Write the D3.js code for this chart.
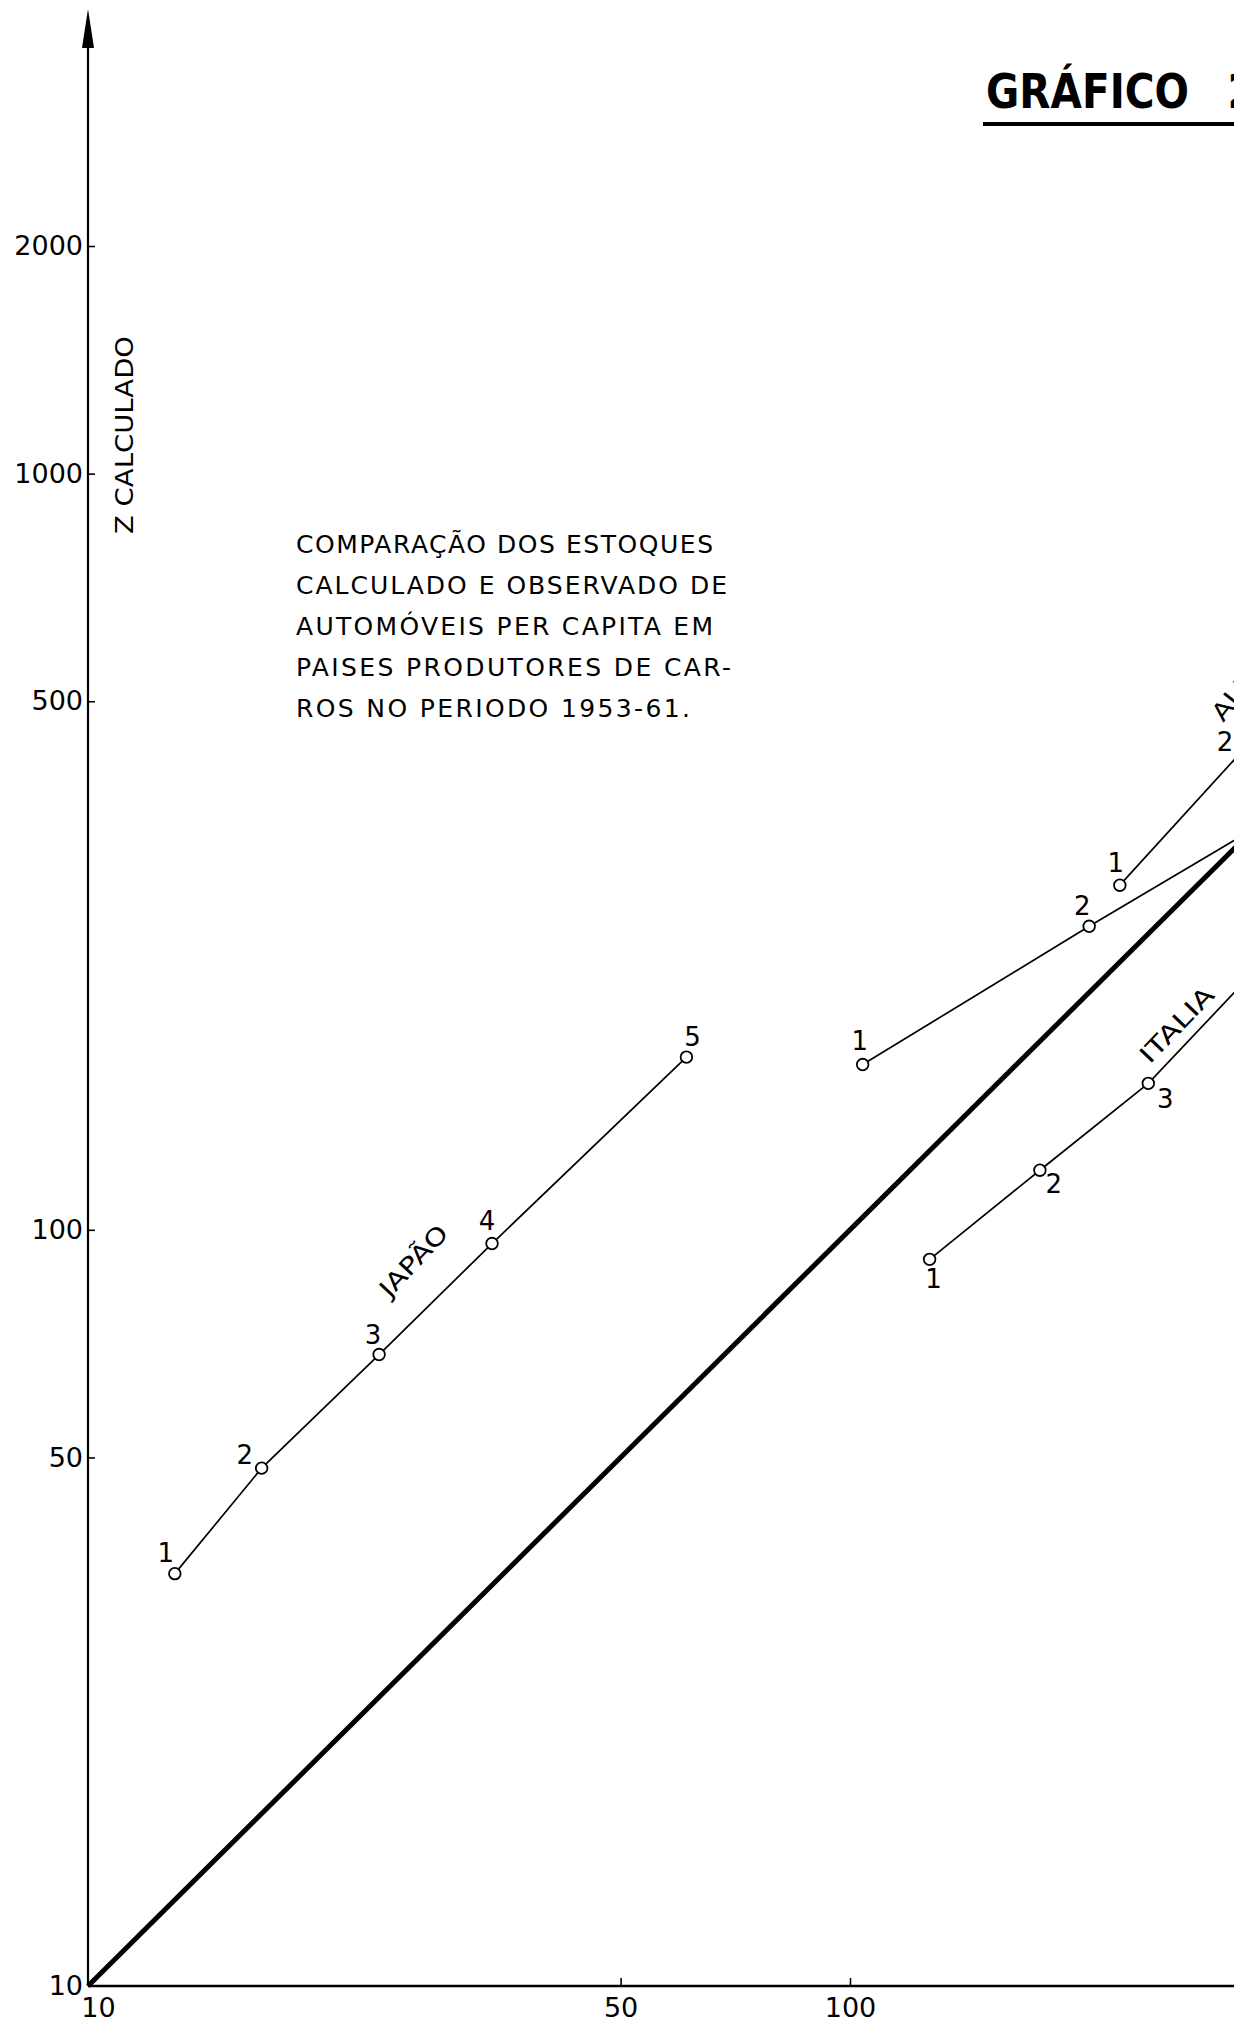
<!DOCTYPE html>
<html>
<head>
<meta charset="utf-8">
<script src="https://cdn.jsdelivr.net/npm/d3@7"></script>
<style>
  html, body { margin: 0; padding: 0; background: #fff; }
  svg { display: block; overflow: hidden; }
  text { font-family: "DejaVu Sans", sans-serif; fill: #000; }
</style>
</head>
<body>
<div id="g"></div>
<script>
// log-log chart: Z observado (x) vs Z calculado (y)
const yTicks = [10, 50, 100, 500, 1000, 2000];
const xTicks = [10, 50, 100];

const japaoX = [13.0, 16.9, 24.1, 33.9, 61.0];
const japaoY = [35.1, 48.4, 68.4, 95.9, 169.2];

const italiaX = [127.2, 177.5, 246.3, 347];
const italiaY = [91.4, 119.9, 156.2, 225];

const serieBX = [103.9, 206, 342];
const serieBY = [165.4, 252, 341];

const alemanhaX = [226, 330];
const alemanhaY = [285.6, 434];

const diagonal = [10, 400];

const textLines = [
  "COMPARAÇÃO DOS ESTOQUES",
  "CALCULADO E OBSERVADO DE",
  "AUTOMÓVEIS PER CAPITA EM",
  "PAISES PRODUTORES DE CAR-",
  "ROS NO PERIODO 1953-61."
];

// label offsets (px) for the point numbers
const japaoOff = [[-9, -21], [-17, -13], [-6, -20], [-5, -23], [6, -20]];
const italiaOff = [[4, 20], [14, 14], [17, 16], [14, 14]];
const serieBOff = [[-3, -24], [-7, -20], [-7, -20]];
const alemanhaOff = [[-4, -22], [-20, -6]];

const width = 1234, height = 2028;

const x = d3.scaleLog().domain([10, 100]).range([88, 850]);
const y = d3.scaleLog().domain([10, 2000]).range([1986, 246]);

const svg = d3.select('#g').append('svg')
  .attr('width', width)
  .attr('height', height);

svg.append('rect').attr('width', width).attr('height', height).attr('fill', '#fff');

// axes lines
svg.append('line')
  .attr('x1', x(10)).attr('x2', x(10))
  .attr('y1', y(10)).attr('y2', 30)
  .attr('stroke', '#000').attr('stroke-width', 2.2);
svg.append('path')
  .attr('d', `M${x(10)},9 L${x(10) - 6},48 L${x(10) + 6},48 Z`)
  .attr('fill', '#000');
svg.append('line')
  .attr('x1', x(10)).attr('x2', width)
  .attr('y1', y(10)).attr('y2', y(10))
  .attr('stroke', '#000').attr('stroke-width', 2.6);

const yAxis = d3.axisLeft(y)
  .tickValues(yTicks)
  .tickFormat(d3.format('d'))
  .tickSizeInner(-7)
  .tickSizeOuter(0)
  .tickPadding(5);

const gy = svg.append('g')
  .attr('transform', `translate(${x(10)},0)`)
  .call(yAxis);
gy.select('.domain').remove();
gy.selectAll('line').attr('stroke', '#000').attr('stroke-width', 1.6);
gy.selectAll('text')
  .style('font-family', '"DejaVu Sans", sans-serif')
  .style('font-size', '27px')
  .attr('fill', '#000');
gy.selectAll('.tick').filter(d => d == 10).select('line').remove();

const xAxis = d3.axisBottom(x)
  .tickValues(xTicks)
  .tickFormat(d3.format('d'))
  .tickSizeInner(-8)
  .tickSizeOuter(0)
  .tickPadding(12);

const gx = svg.append('g')
  .attr('transform', `translate(0,${y(10)})`)
  .call(xAxis);
gx.select('.domain').remove();
gx.selectAll('line').attr('stroke', '#000').attr('stroke-width', 1.6);
gx.selectAll('text')
  .style('font-family', '"DejaVu Sans", sans-serif')
  .style('font-size', '27px')
  .attr('fill', '#000');
gx.selectAll('.tick').filter(d => d == 10).select('line').remove();
gx.selectAll('.tick').filter(d => d == 10).select('text').attr('dx', 10);

// y = x reference line
svg.append('line')
  .attr('x1', x(diagonal[0])).attr('y1', y(diagonal[0]))
  .attr('x2', x(diagonal[1])).attr('y2', y(diagonal[1]))
  .attr('stroke', '#000').attr('stroke-width', 5);

// series
const series = [
  { xs: japaoX, ys: japaoY, off: japaoOff },
  { xs: italiaX, ys: italiaY, off: italiaOff },
  { xs: serieBX, ys: serieBY, off: serieBOff },
  { xs: alemanhaX, ys: alemanhaY, off: alemanhaOff }
];

const line = d3.line().x(d => x(d[0])).y(d => y(d[1]));

series.forEach(s => {
  const pts = s.xs.map((v, i) => [v, s.ys[i]]);
  svg.append('path')
    .datum(pts)
    .attr('d', line)
    .attr('fill', 'none')
    .attr('stroke', '#000')
    .attr('stroke-width', 1.7);
  svg.selectAll(null).data(pts).enter()
    .append('circle')
    .attr('cx', d => x(d[0]))
    .attr('cy', d => y(d[1]))
    .attr('r', 5.8)
    .attr('fill', '#fff')
    .attr('stroke', '#000')
    .attr('stroke-width', 1.8);
  svg.selectAll(null).data(pts).enter()
    .append('text')
    .attr('x', (d, i) => x(d[0]) + s.off[i][0])
    .attr('y', (d, i) => y(d[1]) + s.off[i][1])
    .attr('text-anchor', 'middle')
    .attr('dominant-baseline', 'central')
    .style('font-size', '26px')
    .text((d, i) => i + 1);
});

// country names along the lines
function rotLabel(txt, cx, cy, ang, len, anchor) {
  svg.append('text')
    .attr('transform', `translate(${cx},${cy}) rotate(${ang})`)
    .attr('text-anchor', anchor || 'middle')
    .attr('dominant-baseline', 'central')
    .attr('textLength', len)
    .attr('lengthAdjust', 'spacingAndGlyphs')
    .style('font-size', '24px')
    .text(txt);
}
rotLabel('JAPÃO', 414, 1261, -47, 88);
rotLabel('ITALIA', 1177, 1025, -46, 95);
rotLabel('ALEMANHA', 1217, 718, -52, 160, 'start');

// axis title
svg.append('text')
  .attr('transform', 'translate(125,435) rotate(-90)')
  .attr('text-anchor', 'middle')
  .attr('dominant-baseline', 'central')
  .attr('textLength', 198)
  .attr('lengthAdjust', 'spacingAndGlyphs')
  .style('font-size', '24px')
  .text('Z CALCULADO');

// description block
const lineEnds = [713, 727, 713, 731, 690];
svg.selectAll('.desc').data(textLines).enter()
  .append('text')
  .attr('class', 'desc')
  .attr('x', 296)
  .attr('y', (d, i) => 553 + i * 41)
  .attr('textLength', (d, i) => lineEnds[i] - 296)
  .attr('lengthAdjust', 'spacing')
  .style('font-size', '25px')
  .text(d => d);

// title
svg.append('text')
  .attr('x', 986).attr('y', 108)
  .attr('textLength', 203)
  .attr('lengthAdjust', 'spacingAndGlyphs')
  .style('font-size', '48px')
  .style('font-weight', 'bold')
  .text('GRÁFICO');
svg.append('text')
  .attr('x', 1227).attr('y', 108)
  .style('font-size', '48px')
  .style('font-weight', 'bold')
  .text('2');
svg.append('line')
  .attr('x1', 983).attr('x2', width)
  .attr('y1', 124).attr('y2', 124)
  .attr('stroke', '#000').attr('stroke-width', 4);
</script>
</body>
</html>
